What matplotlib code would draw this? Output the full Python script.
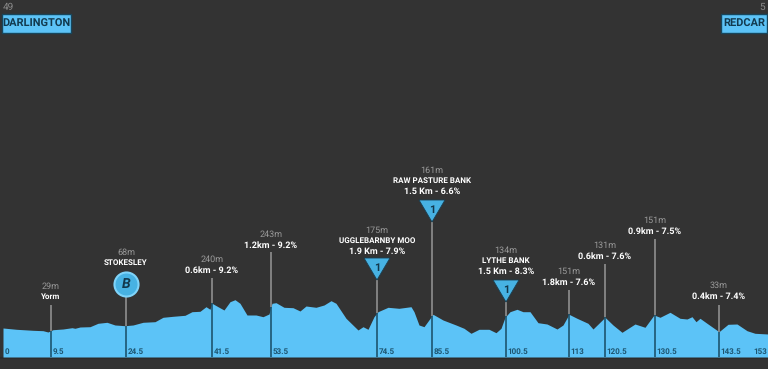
"""
Stage profile Darlington - Redcar
"""

import matplotlib
matplotlib.use("Agg")
import matplotlib.pyplot as plt
from matplotlib.patches import Rectangle
import numpy as np

# profile (km, height in picture units, 1 unit = 1 px)
profile_km = [0.0, 2.7, 6.0, 8.0, 9.0, 10.0, 12.0, 13.8, 14.4, 15.4, 17.4, 19.0, 20.8, 22.4, 24.4,
              26.0, 28.0, 30.4, 32.0, 34.0, 36.4, 37.8, 39.4, 40.6, 41.4, 41.8, 43.0, 44.2, 45.4,
              46.4, 47.4, 48.8, 50.6, 52.0, 53.2, 53.8, 54.6, 56.2, 58.0, 59.4, 60.6, 62.6, 64.2,
              65.6, 66.6, 68.6, 71.0, 72.0, 73.0, 74.2, 75.0, 77.0, 79.2, 81.6, 82.2, 83.2, 84.2,
              86.0, 88.0, 90.6, 92.2, 93.6, 95.2, 97.2, 98.6, 99.6, 100.4, 101.4, 102.8, 104.0,
              105.4, 107.0, 108.8, 110.8, 112.0, 113.2, 114.8, 117.0, 118.0, 120.4, 122.0, 123.8,
              126.4, 128.4, 130.2, 131.4, 133.4, 135.4, 136.8, 137.8, 138.6, 139.4, 140.8, 143.2,
              145.0, 146.8, 148.8, 150.4, 153.0]
profile_h = [29, 27.7, 26.7, 26.3, 25, 27.3, 28, 29.3, 28.7, 30, 30.3, 33.7, 34.7, 32, 31.3,
             32, 34.7, 35.3, 39.7, 40.7, 41.7, 45.3, 45.7, 50.3, 47.7, 53.7, 50.3, 47, 55.3,
             57.3, 53.7, 42, 42, 40.3, 43, 53.7, 54.3, 49.7, 49.3, 46, 51, 49.7, 52,
             56.3, 53.7, 38.7, 27, 30.3, 27.7, 40.3, 45.3, 49.7, 48.7, 50.3, 45.3, 32, 30.3,
             42.7, 37, 32, 28.7, 23.7, 27.7, 27.7, 24.3, 28.7, 39.7, 45.3, 47.7, 45.3,
             45.3, 34.3, 33, 28, 32, 42.7, 38.7, 33.7, 28, 39.7, 32, 24.7,
             33, 29.7, 42, 39.7, 44.7, 38.7, 38, 40.3, 35.3, 38.7, 33.7, 25.3,
             32.7, 33, 26.3, 23.7, 23]

# markers along the route
mark_km = [9.6, 24.6, 41.8, 53.6, 74.8, 85.8, 100.6, 113.2, 120.4, 130.4, 143.2]
mark_top = [52, 73, 79, 105, 77, 135, 55, 67, 93, 118, 52]
mark_text_h = [60, 94, 87, 112, 106, 166, 86, 75, 101, 126, 61]
mark_kind = ["", "B", "", "", "1", "1", "1", "", "", "", ""]
elev_labels = ["29m", "68m", "240m", "243m", "175m", "161m", "134m", "151m", "131m", "151m", "33m"]
name_labels = ["", "", "", "", "UGGLEBARNBY MOO", "RAW PASTURE BANK", "LYTHE BANK", "", "", "", ""]
detail_labels = ["Yorm", "STOKESLEY", "0.6km - 9.2%", "1.2km - 9.2%", "1.9 Km - 7.9%", "1.5 Km - 6.6%",
                 "1.5 Km - 8.3%", "1.8km - 7.6%", "0.6km - 7.6%", "0.9km - 7.5%", "0.4km - 7.4%"]
detail_size = [6, 5.6, 6.2, 6.2, 6.2, 6.2, 6.2, 6.2, 6.2, 6.2, 6.2]
tick_labels = ["9.5", "24.5", "41.5", "53.5", "74.5", "85.5", "100.5", "113", "120.5", "130.5", "143.5"]

BG = "#333333"
BLUE = "#5cc3f7"
DARK = "#1d5570"
GREY = "#8f8f8f"

plt.rcParams["font.family"] = ["Roboto", "DejaVu Sans"]
plt.rcParams["text.hinting"] = "no_hinting"
plt.rcParams["text.hinting_factor"] = 1

fig = plt.figure(figsize=(7.68, 3.69), dpi=100, facecolor=BG)
ax = fig.add_axes([0, 0, 1, 1], facecolor=BG)
ax.set_xlim(-0.6, 153)
ax.set_ylim(-12, 357)
ax.axis("off")

ax.fill_between(profile_km, 0, profile_h, color=BLUE, lw=0, zorder=2)
ax.axhline(-0.5, color="#2b2b2b", lw=1.5, zorder=1)

for i, km in enumerate(mark_km):
    ground = np.interp(km, profile_km, profile_h)
    top = mark_top[i]
    ax.plot([km, km], [ground, top], color=GREY, lw=1.2, zorder=3, solid_capstyle="butt")
    ax.plot([km, km], [0, ground], color=DARK, lw=1.2, zorder=3, solid_capstyle="butt")

    if mark_kind[i] == "1":
        ax.fill([km - 2.6, km + 2.6, km], [top + 22, top + 22, top], color="#47b2e3", ec="#1a3f52", lw=0.6, zorder=4)
        ax.text(km, top + 12, "1", color="#12384c", fontsize=8, fontweight="bold", ha="center", va="center", zorder=5)
    elif mark_kind[i] == "B":
        ax.scatter([km], [top], s=300, color="#47b2e3", edgecolor="#7fd4fa", linewidth=1.5, zorder=4)
        ax.text(km, top, "B", color="#12384c", fontsize=10, fontweight="bold", style="italic",
                ha="center", va="center", zorder=5)

    # text stacks upward from the last line
    y = mark_text_h[i]
    ax.text(km, y, detail_labels[i], color="white", fontsize=detail_size[i], fontweight="bold",
            ha="center", va="center", zorder=6)
    if name_labels[i]:
        y += 10.5
        ax.text(km, y, name_labels[i], color="white", fontsize=5.6, fontweight="bold", ha="center", va="center", zorder=6)
    y += 10.5
    ax.text(km, y, elev_labels[i], color="#9a9a9a", fontsize=6.6, ha="center", va="center", zorder=6)

    ax.text(km + 0.3, 5, tick_labels[i], color=DARK, fontsize=6, fontweight="bold", ha="left", va="center", zorder=6)

ax.text(0.3, 5, "0", color=DARK, fontsize=6, fontweight="bold", ha="left", va="center", zorder=6)
ax.text(152.8, 5, "153", color=DARK, fontsize=6, fontweight="bold", ha="right", va="center", zorder=6)

# start and finish flags
ax.add_patch(Rectangle((-0.2, 324), 13.8, 19, fc=BLUE, ec="#17465c", lw=1, zorder=5))
ax.add_patch(Rectangle((143.6, 324), 9.2, 19, fc=BLUE, ec="#17465c", lw=1, zorder=5))
ax.text(6.7, 333.5, "DARLINGTON", color="#123a4f", fontsize=7.8, fontweight="bold", ha="center", va="center", zorder=6)
ax.text(148.2, 333.5, "REDCAR", color="#123a4f", fontsize=7.8, fontweight="bold", ha="center", va="center", zorder=6)
ax.text(0.0, 350, "49", color="#8a8a8a", fontsize=7, ha="left", va="center")
ax.text(152.4, 350, "5", color="#8a8a8a", fontsize=7, ha="right", va="center")

fig.savefig("out.png", dpi=100, facecolor=BG)
plt.close(fig)
